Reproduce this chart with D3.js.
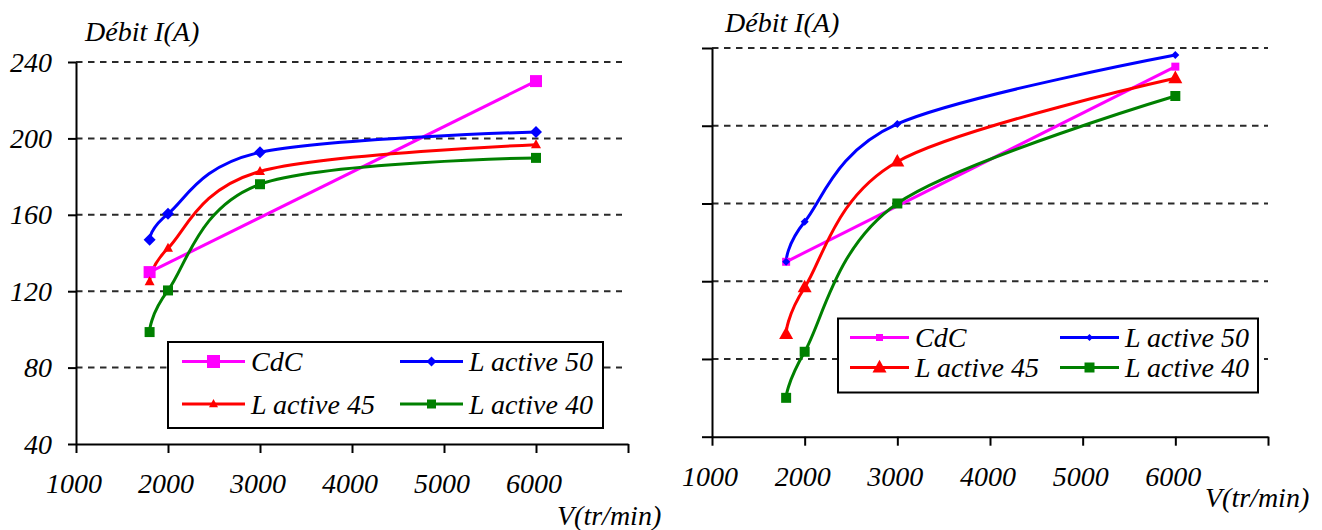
<!DOCTYPE html>
<html><head><meta charset="utf-8">
<script src="https://cdn.jsdelivr.net/npm/d3@7"></script>
</head>
<body style="margin:0;background:#fff">
<svg id="c" width="1322" height="530"></svg>
<script>
// ---------- data ----------
const speeds = [1800, 2000, 3000, 6000];
const cdcSpeeds = [1800, 6000];
const xTicks = [1000, 2000, 3000, 4000, 5000, 6000, 7000];
const xTickLabels = ["1000", "2000", "3000", "4000", "5000", "6000", ""];
const yTicks = [40, 80, 120, 160, 200, 240];
const yTickLabels = ["40", "80", "120", "160", "200", "240"];
const seriesNames = ["CdC", "L active 50", "L active 45", "L active 40"];

// left chart values (Débit I(A))
const leftCdC = [130, 230];
const leftL50 = [147, 160.5, 192.7, 203.4];
const leftL45 = [125, 142.5, 182.7, 196.7];
const leftL40 = [98.6, 120.4, 176, 189.8];

// right chart values (same units, no labelled axis)
const rightCdC = [130, 230.4];
const rightL50 = [130, 150.6, 200.9, 236.4];
const rightL45 = [92.8, 116.8, 181.5, 224.4];
const rightL40 = [60, 83.7, 160, 215.3];

const titleY = "Débit I(A)";
const titleX = "V(tr/min)";

// ---------- drawing ----------
const svg = d3.select("#c");
const colors = {"CdC":"#ff00ff","L active 50":"#0000ff","L active 45":"#ff0000","L active 40":"#008000"};
const shapes = {"CdC":"square","L active 50":"diamond","L active 45":"triangle","L active 40":"square"};
const FONT = "Liberation Serif";
const FS = 28;

function markerPath(shape, r){
  if(shape==="square") return `M${-r},${-r}H${r}V${r}H${-r}Z`;
  if(shape==="diamond") return `M0,${-r}L${r},0L0,${r}L${-r},0Z`;
  return `M0,${-r*1.1}L${r},${r*0.7}L${-r},${r*0.7}Z`;
}

// all texts are placed directly at the svg root
function label(x0, y0, str, anchor){
  svg.append("text").attr("x",x0).attr("y",y0).attr("font-size",FS)
    .attr("font-style","italic").attr("font-family",FONT)
    .attr("text-anchor",anchor||"start").text(str);
}

function drawChart(cfg){
  const g = svg.append("g");
  const x = d3.scaleLinear().domain([1000,7000]).range(cfg.xRange);
  const y = d3.scaleLinear().domain([40,240]).range(cfg.yRange);

  g.append("g").selectAll("line").data(yTicks.slice(1)).join("line")
    .attr("x1", cfg.xRange[0]).attr("x2", cfg.gridEnd)
    .attr("y1", d=>y(d)).attr("y2", d=>y(d))
    .attr("stroke","#2a2a2a").attr("stroke-width",2).attr("stroke-dasharray","6.5,5.5");

  const ya = d3.axisLeft(y).tickValues(yTicks).tickSize(cfg.yTick).tickSizeOuter(0).tickFormat("");
  const yg = g.append("g").attr("transform",`translate(${cfg.xRange[0]},0)`).call(ya);
  yg.select(".domain").attr("stroke","#000").attr("stroke-width",2);
  yg.selectAll(".tick line").attr("stroke","#000").attr("stroke-width",2);
  yg.selectAll(".tick text").remove();

  const xa = d3.axisBottom(x).tickValues(xTicks).tickSize(cfg.xTick).tickSizeOuter(0).tickFormat("");
  const xg = g.append("g").attr("transform",`translate(0,${cfg.yRange[0]})`).call(xa);
  xg.select(".domain").attr("stroke","#000").attr("stroke-width",2);
  xg.selectAll(".tick line").attr("stroke","#000").attr("stroke-width",2);
  xg.selectAll(".tick text").remove();

  const line = d3.line().x(d=>x(d[0])).y(d=>y(d[1])).curve(d3.curveCardinal.tension(0));
  cfg.series.forEach(s=>{
    const pts = s.xs.map((v,i)=>[v, s.ys[i]]);
    g.append("path").attr("d", line(pts)).attr("fill","none")
      .attr("stroke", colors[s.name]).attr("stroke-width",3);
  });
  cfg.series.forEach(s=>{
    const pts = s.xs.map((v,i)=>[v, s.ys[i]]);
    g.append("g").selectAll("path").data(pts).join("path")
      .attr("transform", d=>`translate(${x(d[0])},${y(d[1])})`)
      .attr("d", markerPath(shapes[s.name], cfg.markerR[s.name]))
      .attr("fill", colors[s.name]);
  });

  const L = cfg.legend;
  g.append("rect").attr("x",L.x).attr("y",L.y).attr("width",L.w).attr("height",L.h)
    .attr("fill","#fff").attr("stroke","#000").attr("stroke-width",2);
  seriesNames.forEach((n,i)=>{
    const col = i%2, row = Math.floor(i/2);
    const lx = L.cols[col], ly = L.rows[row];
    g.append("line").attr("x1",lx).attr("x2",lx+L.lineW).attr("y1",ly).attr("y2",ly)
      .attr("stroke",colors[n]).attr("stroke-width",3);
    g.append("path").attr("transform",`translate(${lx+L.lineW/2},${ly})`)
      .attr("d", markerPath(shapes[n], L.markerR[n])).attr("fill",colors[n]);
  });

  // texts (root level)
  if(cfg.showYLabels){
    yTicks.forEach((t,i)=> label(cfg.xRange[0]-24, y(t)+9.5, yTickLabels[i], "end"));
  }
  xTicks.forEach((t,i)=>{ if(xTickLabels[i]) label(x(t)-2, cfg.yRange[0]+cfg.xLabelBase, xTickLabels[i], "middle"); });
  label(cfg.titleYPos[0], cfg.titleYPos[1], titleY);
  label(cfg.titleXPos[0], cfg.titleXPos[1], titleX);
  seriesNames.forEach((n,i)=>{
    const col = i%2, row = Math.floor(i/2);
    label(L.cols[col]+L.lineW+L.gap, L.rows[row]+9.5, n);
  });
}

drawChart({
  xRange:[76,628], yRange:[444,62], gridEnd:622, yTick:8, xTick:9, xLabelBase:49,
  showYLabels:true,
  titleYPos:[85,41], titleXPos:[557,525],
  series:[
    {name:"CdC", xs:cdcSpeeds, ys:leftCdC},
    {name:"L active 50", xs:speeds, ys:leftL50},
    {name:"L active 45", xs:speeds, ys:leftL45},
    {name:"L active 40", xs:speeds, ys:leftL40}
  ],
  markerR:{"CdC":6,"L active 50":6,"L active 45":5,"L active 40":5},
  legend:{x:168,y:342,w:435,h:86,cols:[182,400],rows:[361.5,404],lineW:63,gap:6,
    markerR:{"CdC":6.5,"L active 50":5,"L active 45":4.5,"L active 40":4.5}}
});

drawChart({
  xRange:[712,1268], yRange:[436.7,48], gridEnd:1268, yTick:10, xTick:9, xLabelBase:49,
  showYLabels:false,
  titleYPos:[725,32], titleXPos:[1205,507],
  series:[
    {name:"CdC", xs:cdcSpeeds, ys:rightCdC},
    {name:"L active 50", xs:speeds, ys:rightL50},
    {name:"L active 45", xs:speeds, ys:rightL45},
    {name:"L active 40", xs:speeds, ys:rightL40}
  ],
  markerR:{"CdC":4,"L active 50":4,"L active 45":7,"L active 40":5},
  legend:{x:838,y:318.5,w:420,h:74,cols:[850,1060],rows:[337.5,367.5],lineW:59,gap:6,
    markerR:{"CdC":3.5,"L active 50":3.5,"L active 45":7,"L active 40":5}}
});
</script>
</body></html>
